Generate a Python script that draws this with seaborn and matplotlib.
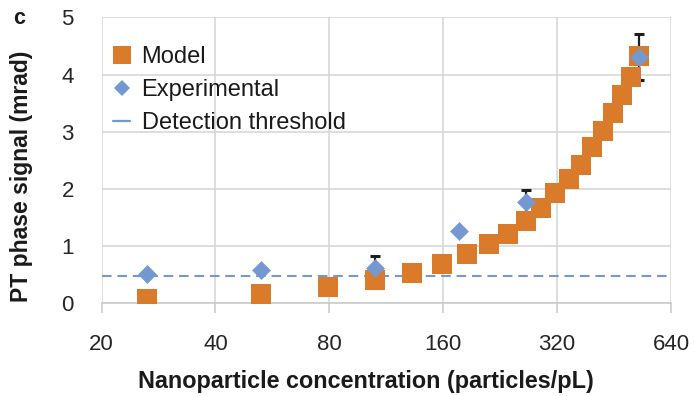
import matplotlib
matplotlib.use("Agg")
import matplotlib.pyplot as plt
from matplotlib.lines import Line2D
import seaborn as sns
import pandas as pd

# Model curve: concentration (particles/pL) and predicted PT phase signal (mrad)
model_conc = [26.4, 52.8, 79.2, 105.6, 132.0, 158.4, 184.8, 211.2, 237.6, 264.0,
              290.4, 316.8, 343.2, 369.6, 396.0, 422.4, 448.8, 475.2, 501.6, 528.0]
model_signal = [0.08, 0.16, 0.28, 0.40, 0.535, 0.68, 0.86, 1.04, 1.22, 1.44,
                1.66, 1.92, 2.17, 2.42, 2.74, 3.02, 3.33, 3.65, 3.96, 4.32]

# Measured points with standard deviation
exp_conc = [26.4, 52.8, 105.6, 176.0, 264.0, 528.0]
exp_signal = [0.52, 0.59, 0.62, 1.26, 1.77, 4.31]
exp_err = [0.0, 0.0, 0.21, 0.0, 0.21, 0.40]

threshold = 0.48
x_ticks = [20, 40, 80, 160, 320, 640]
y_ticks = [0, 1, 2, 3, 4, 5]

orange = "#DA7B2B"
blue = "#7399D0"
grid_grey = "#D5D5D5"

sns.set_theme(style="whitegrid")
plt.rcParams["font.family"] = ["Liberation Sans", "DejaVu Sans"]

model_df = pd.DataFrame({"conc": model_conc, "signal": model_signal})
exp_df = pd.DataFrame({"conc": exp_conc, "signal": exp_signal, "err": exp_err})

fig = plt.figure(figsize=(6.94, 3.96), dpi=100)
ax = fig.add_axes([0.1463, 0.2341, 0.8206, 0.7222])

ax.set_xscale("log", base=2)

ax.axhline(threshold, color=blue, lw=1.5, ls=(0, (4.6, 2.8)), zorder=1)

ax.errorbar(exp_df["conc"], exp_df["signal"], yerr=exp_df["err"], fmt="none",
            ecolor="#1e1e1e", elinewidth=1.6, capsize=3.5, capthick=2.2, zorder=2)

sns.scatterplot(data=model_df, x="conc", y="signal", marker="s", s=205,
                color=orange, linewidth=0, ax=ax, zorder=3, legend=False)
sns.scatterplot(data=exp_df, x="conc", y="signal", marker="D", s=92,
                color=blue, linewidth=0, ax=ax, zorder=4, legend=False)

ax.set_xlim(20, 640)
ax.set_ylim(0, 5)
ax.set_xticks(x_ticks)
ax.set_xticklabels([str(t) for t in x_ticks])
ax.xaxis.set_minor_locator(matplotlib.ticker.NullLocator())
ax.set_yticks(y_ticks)
ax.set_yticklabels([str(t) for t in y_ticks])

ax.grid(True, color=grid_grey, lw=1.1)
for side in ("top", "right", "left"):
    ax.spines[side].set_visible(False)
ax.spines["bottom"].set_color("#C8C8C8")
ax.spines["bottom"].set_linewidth(1.1)

ax.tick_params(axis="x", which="major", length=7, width=1.1, color="#C8C8C8",
               pad=15, labelsize=16, labelcolor="#262626", direction="out", bottom=True)
ax.tick_params(axis="y", length=0, pad=20, labelsize=16, labelcolor="#262626")

ax.set_xlabel("Nanoparticle concentration (particles/pL)", fontsize=16.8,
              fontweight="bold", color="#1a1a1a", va="center", ha="center")
ax.xaxis.set_label_coords(0.465, -0.272)
ax.set_ylabel("PT phase signal (mrad)", fontsize=16.5, fontweight="bold",
              color="#1a1a1a", va="center", ha="center")
ax.yaxis.set_label_coords(-0.1413, 0.445)

handles = [
    Line2D([], [], marker="s", ls="none", color=orange, markersize=12.5, mew=0),
    Line2D([], [], marker="D", ls="none", color=blue, markersize=8, mew=0),
    Line2D([], [], ls="-", color=blue, lw=1.6),
]
ax.legend(handles, ["Model", "Experimental", "Detection threshold"],
          loc="upper left", bbox_to_anchor=(0.004, 0.932), frameon=False,
          fontsize=17, handlelength=0.7, handletextpad=0.5, labelspacing=0.46,
          borderaxespad=0.0, labelcolor="#1a1a1a")

fig.text(0.027, 0.953, "c", fontsize=15.5, fontweight="bold", color="#1a1a1a",
         ha="center", va="center")

fig.savefig("out.png", dpi=100)
